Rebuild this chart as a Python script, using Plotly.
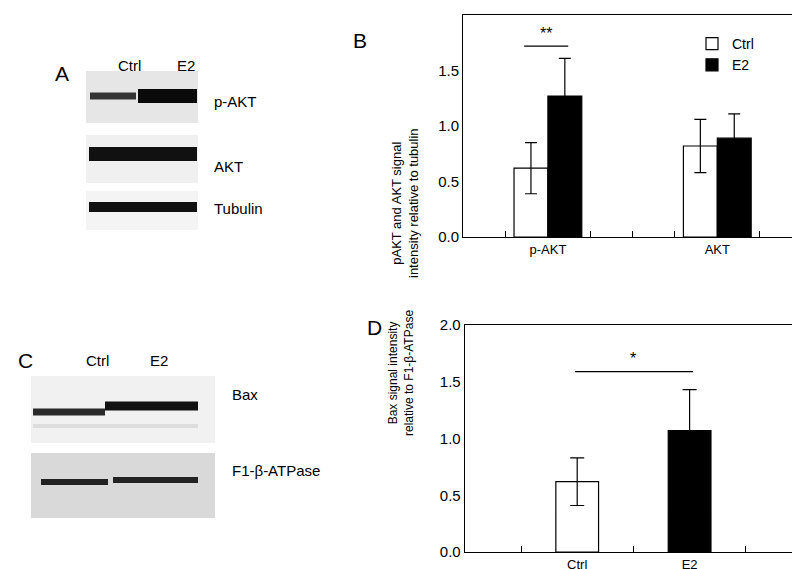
import plotly.graph_objects as go

# Panel B data
groups_b = ["p-AKT", "AKT"]
ctrl_b = [0.62, 0.82]
ctrl_b_err = [0.23, 0.24]
e2_b = [1.27, 0.89]
e2_b_err = [0.34, 0.22]

# Panel D data
groups_d = ["Ctrl", "E2"]
bax_d = [0.62, 1.07]
bax_d_err = [0.21, 0.36]

W, H = 800, 569
FONT = "Liberation Sans, Arial, sans-serif"


def px(x):
    return x / W


def py(y):
    return 1 - y / H


fig = go.Figure()

pos_b = [1, 2]
fig.add_trace(go.Bar(x=[p - 0.1 for p in pos_b], y=ctrl_b, width=0.2, name="Ctrl",
                     marker=dict(color="white", line=dict(color="black", width=1.2)),
                     error_y=dict(type="data", array=ctrl_b_err, color="black", thickness=1.2, width=6),
                     xaxis="x", yaxis="y"))
fig.add_trace(go.Bar(x=[p + 0.1 for p in pos_b], y=e2_b, width=0.2, name="E2",
                     marker=dict(color="black", line=dict(color="black", width=1.2)),
                     error_y=dict(type="data", array=e2_b_err, color="black", thickness=1.2, width=6),
                     xaxis="x", yaxis="y"))

pos_d = [1, 2]
fig.add_trace(go.Bar(x=pos_d, y=bax_d, width=0.38, showlegend=False,
                     marker=dict(color=["white", "black"], line=dict(color="black", width=1.2)),
                     error_y=dict(type="data", array=bax_d_err, color="black", thickness=1.2, width=7),
                     xaxis="x2", yaxis="y2"))

axis_common = dict(showline=True, linecolor="black", linewidth=1.2, mirror=True, automargin=False,
                   showgrid=False, zeroline=False, tickfont=dict(size=15, color="black", family=FONT))
yax = dict(axis_common, range=[0, 2], tickvals=[0, 0.5, 1, 1.5, 2], tickformat=".1f",
           ticks="outside", ticklen=0)

fig.update_layout(
    width=W, height=H, margin=dict(l=0, r=0, t=0, b=0, autoexpand=False),
    paper_bgcolor="white", plot_bgcolor="white", font=dict(family=FONT, color="black"),
    barmode="overlay",
    xaxis=dict(axis_common, domain=[0.569, 0.9925], range=[0.5, 2.5], tickvals=pos_b, ticktext=groups_b,
               ticks="", tickfont=dict(size=13, family=FONT, color="black"),
               minor=dict(tickvals=[0.75, 1.25, 1.5, 1.75, 2.25], ticks="inside", ticklen=6, tickcolor="black")),
    yaxis=dict(yax, domain=[0.5975, 0.9877]),
    xaxis2=dict(axis_common, domain=[0.571, 0.9925], range=[0, 3], tickvals=pos_d, ticktext=groups_d,
                ticks="", tickfont=dict(size=13, family=FONT, color="black"), anchor="y2",
                minor=dict(tickvals=[0.5, 1.5, 2.5], ticks="inside", ticklen=6, tickcolor="black")),
    yaxis2=dict(yax, domain=[0.0439, 0.4429], anchor="x2"),
    showlegend=True,
    legend=dict(x=px(684), y=py(20), xanchor="left", yanchor="top", font=dict(size=14),
                bgcolor="rgba(0,0,0,0)", itemwidth=30, tracegroupgap=4),
)

shapes = []
ann = []

# significance bars
shapes.append(dict(type="line", xref="x", yref="y", x0=0.86, x1=1.12, y0=1.72, y1=1.72,
                   line=dict(color="black", width=1.2)))
ann.append(dict(text="**", xref="x", yref="y", x=0.99, y=1.74, yanchor="bottom", showarrow=False,
                font=dict(size=16)))
shapes.append(dict(type="line", xref="x2", yref="y2", x0=0.98, x1=2.03, y0=1.59, y1=1.59,
                   line=dict(color="black", width=1.2)))
ann.append(dict(text="*", xref="x2", yref="y2", x=1.5, y=1.61, yanchor="bottom", showarrow=False,
                font=dict(size=16)))

# axis titles
ann.append(dict(text="pAKT and AKT signal<br>intensity relative to tubulin", xref="paper", yref="paper",
                x=px(397), y=py(118), textangle=-90, showarrow=False, font=dict(size=13)))
ann.append(dict(text="Bax signal intensity<br>relative to F1-\u03b2-ATPase", xref="paper", yref="paper",
                x=px(393), y=py(430), textangle=-90, showarrow=False, font=dict(size=12)))

# panel letters
for t, x, y in [("A", 45, 52), ("B", 352, 19), ("C", 8, 352), ("D", 366, 319)]:
    ann.append(dict(text=t, xref="paper", yref="paper", x=px(x), y=py(y), showarrow=False,
                    font=dict(size=21)))


def rect(x0, y0, x1, y1, fill):
    shapes.append(dict(type="rect", xref="paper", yref="paper", x0=px(x0), x1=px(x1),
                       y0=py(y1), y1=py(y0), fillcolor=fill, line=dict(width=0), layer="below"))


def band(x0, x1, y, h, color):
    shapes.append(dict(type="rect", xref="paper", yref="paper", x0=px(x0), x1=px(x1),
                       y0=py(y + h / 2), y1=py(y - h / 2), fillcolor=color,
                       line=dict(width=0)))


# blot A
rect(78, 63, 190, 115, "#e6e6e6")
band(82, 128, 88, 7, "#333333")
band(130, 189, 88, 14, "#0a0a0a")
rect(78, 127, 190, 175, "#f0f0f0")
band(81, 189, 146, 14, "#111111")
rect(78, 183, 190, 222, "#f4f4f4")
band(81, 189, 199, 10, "#111111")
for t, x, y in [("Ctrl", 108, 47), ("E2", 167, 47)]:
    ann.append(dict(text=t, xref="paper", yref="paper", x=px(x), y=py(y), showarrow=False, font=dict(size=15)))
for t, y in [("p-AKT", 83), ("AKT", 148), ("Tubulin", 200)]:
    ann.append(dict(text=t, xref="paper", yref="paper", x=px(204), y=py(y), xanchor="left",
                    showarrow=False, font=dict(size=15)))

# blot C
rect(23, 368, 207, 435, "#f1f1f1")
band(25, 97, 404, 7, "#2a2a2a")
band(97, 190, 398, 9, "#111111")
band(25, 190, 418, 4, "#dddddd")
rect(23, 445, 207, 510, "#d9d9d9")
band(33, 100, 474, 6, "#222222")
band(105, 190, 472, 6, "#222222")
for t, x, y in [("Ctrl", 76, 352), ("E2", 140, 352)]:
    ann.append(dict(text=t, xref="paper", yref="paper", x=px(x), y=py(y), showarrow=False, font=dict(size=15)))
for t, y in [("Bax", 397), ("F1-\u03b2-ATPase", 473)]:
    ann.append(dict(text=t, xref="paper", yref="paper", x=px(222), y=py(y), xanchor="left",
                    showarrow=False, font=dict(size=15)))

fig.update_layout(shapes=shapes, annotations=ann)
fig.write_html("out.html")
